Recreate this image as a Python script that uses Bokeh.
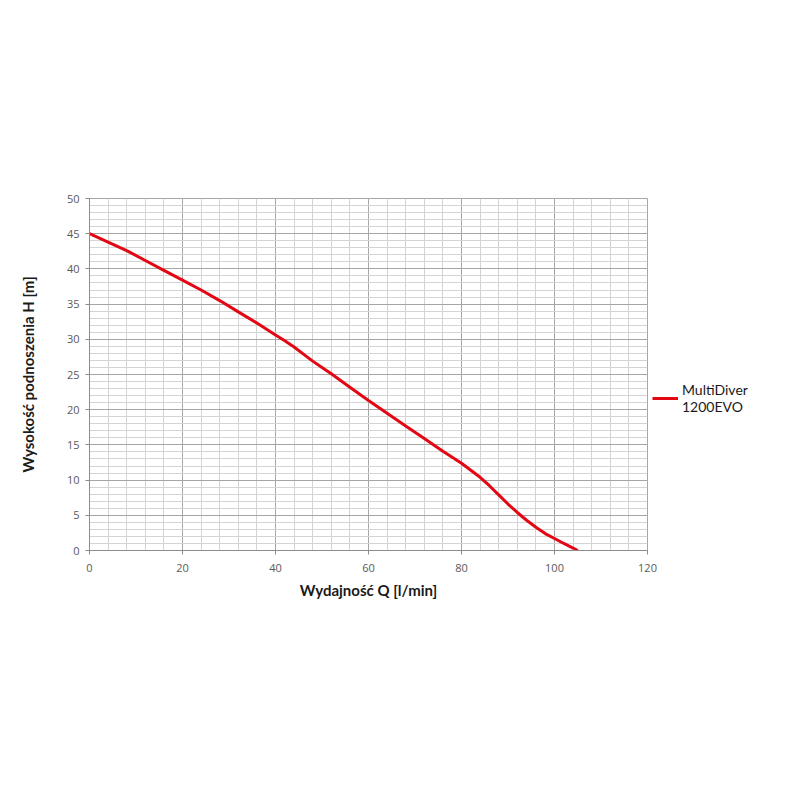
import numpy as np

from bokeh.plotting import figure
from bokeh.models import Legend, LegendItem, FixedTicker
from bokeh.embed import file_html
from bokeh.resources import INLINE

# pump curve
flow_q = [0, 4, 8, 12, 16, 20, 24, 28, 32, 36, 40, 42, 44, 46, 48, 50, 52,
          56, 60, 64, 68, 72, 76, 80, 82, 84, 86, 88, 90, 92, 94, 96, 98,
          100, 102, 104, 105]
head_h = [45.0, 43.8, 42.6, 41.2, 39.8, 38.4, 37.0, 35.5, 33.9, 32.3, 30.6,
          29.8, 28.9, 27.9, 26.9, 26.0, 25.1, 23.2, 21.3, 19.5, 17.7, 15.9,
          14.1, 12.4, 11.4, 10.4, 9.2, 7.9, 6.6, 5.4, 4.3, 3.3, 2.4, 1.7,
          1.0, 0.35, 0.0]
series_name = "MultiDiver\n1200EVO"

x_ticks = [0, 20, 40, 60, 80, 100, 120]
y_ticks = [0, 5, 10, 15, 20, 25, 30, 35, 40, 45, 50]

p = figure(frame_width=558, frame_height=352,
           x_range=(0, 120), y_range=(0, 50),
           output_backend="svg", toolbar_location=None,
           min_border_left=89, min_border_top=198,
           min_border_right=40, min_border_bottom=220)
p.background_fill_color = "white"
p.border_fill_color = "white"
p.outline_line_color = "#a6a6a6"

# axes
for ax in (p.xaxis, p.yaxis):
    ax.axis_line_color = "#8c8c8c"
    ax.major_tick_line_color = "#8c8c8c"
    ax.major_tick_out = 4
    ax.major_tick_in = 0
    ax.minor_tick_line_color = None
    ax.major_label_text_font = "Open Sans"
    ax.major_label_text_font_size = "11px"
    ax.major_label_text_color = "#595959"
    ax.axis_label_text_font = "Lato"
    ax.axis_label_text_font_style = "bold"
    ax.axis_label_text_font_size = "15px"
    ax.axis_label_text_color = "#1a1a1a"

p.xaxis.ticker = FixedTicker(ticks=x_ticks, minor_ticks=list(range(0, 121, 4)))
p.yaxis.ticker = FixedTicker(ticks=y_ticks, minor_ticks=list(range(0, 51)))
p.xaxis.axis_label = "Wydajność Q [l/min]"
p.yaxis.axis_label = "Wysokość podnoszenia H [m]"
p.xaxis.axis_label_standoff = 6
p.yaxis.axis_label_standoff = 27
p.xaxis.major_label_standoff = 9
p.yaxis.major_label_standoff = 6

# grid
for g in (p.xgrid, p.ygrid):
    g.grid_line_color = "#a6a6a6"
    g.grid_line_width = 1
    g.minor_grid_line_color = "#d4d4d4"
    g.minor_grid_line_width = 1

r = p.line(flow_q, head_h, line_color="#e30613", line_width=3,
           line_join="round")

legend = Legend(items=[LegendItem(label=series_name, renderers=[r])],
                location=(5, 135), orientation="vertical",
                border_line_color=None, background_fill_alpha=0,
                label_text_font="Lato", label_text_font_size="14px",
                label_text_color="#1a1a1a", glyph_width=26,
                label_standoff=4, padding=0, margin=0)
p.add_layout(legend, "right")

open("out.html", "w").write(file_html(p, INLINE))
